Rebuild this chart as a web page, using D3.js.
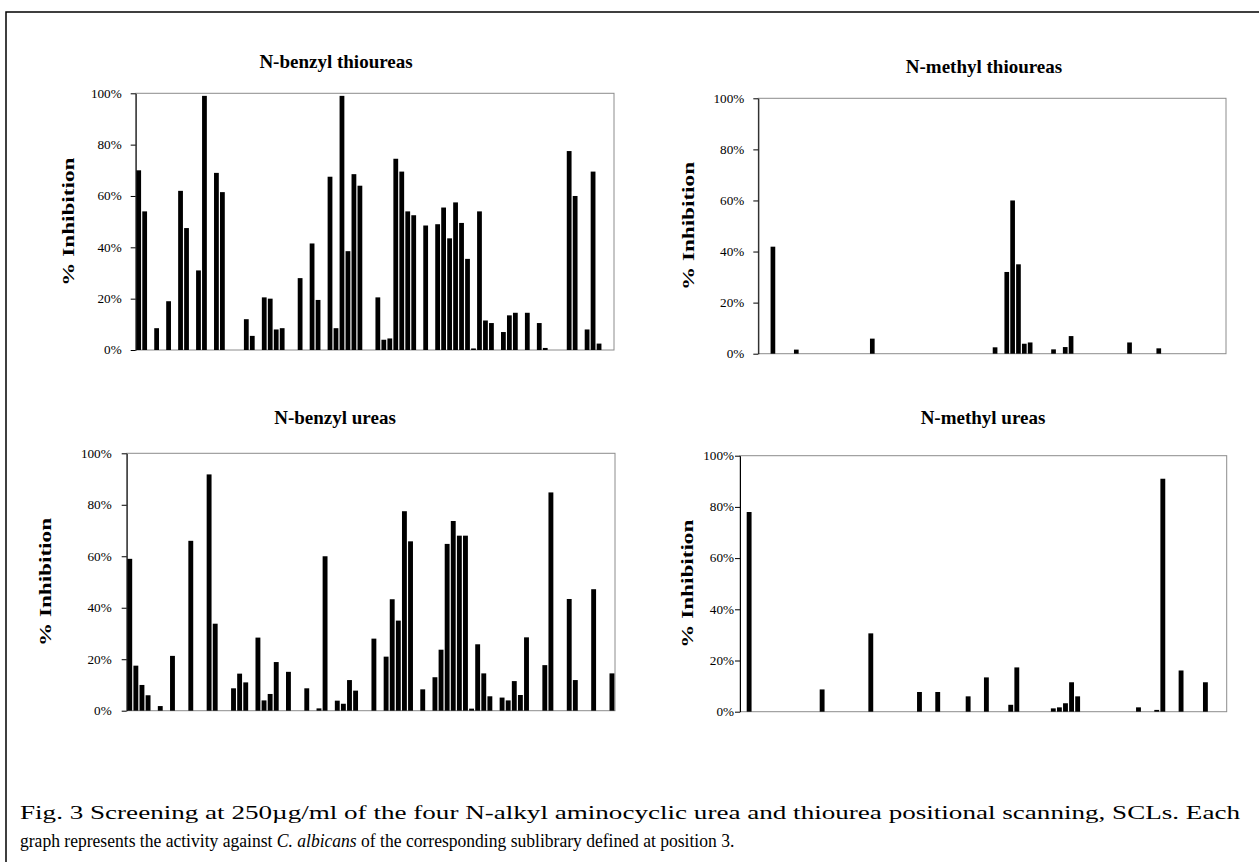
<!DOCTYPE html>
<html>
<head>
<meta charset="utf-8">
<script src="https://d3js.org/d3.v7.min.js"></script>
<style>
body { margin: 0; background: #fff; }
svg text { font-family: "Liberation Serif", "Times New Roman", serif; fill: #000; }
.title { font-weight: bold; font-size: 19px; }
.ylab { font-weight: bold; font-size: 17px; }
.axis text { font-size: 12px; }
.axis path, .axis line { stroke: #000; }
.frame { fill: none; stroke: #8c8c8c; }
.bar { fill: #000; }
.caption { font-size: 18px; }
</style>
</head>
<body>
<svg width="1259" height="862"></svg>
<script>
// % inhibition per sublibrary slot (80 slots each, 0 = no bar)
var benzylThio = [
  70, 54, 0, 8.5, 0, 19, 0, 62, 47.5, 0,
  31, 99, 0, 69, 61.5, 0, 0, 0, 12, 5.5,
  0, 20.5, 20, 8, 8.5, 0, 0, 28, 0, 41.5,
  19.5, 0, 67.5, 8.5, 99, 38.5, 68.5, 64, 0, 0,
  20.5, 4, 4.5, 74.5, 69.5, 54, 52.5, 0, 48.5, 0,
  49, 55.5, 43.5, 57.5, 49.5, 35.5, 0.6, 54, 11.5, 10.5,
  0, 7, 13.5, 14.5, 0, 14.5, 0, 10.5, 0.8, 0,
  0, 0, 77.5, 60, 0, 8, 69.5, 2.5, 0, 0
];
var methylThio = [
  0, 0, 41.9, 0, 0, 0, 1.6, 0, 0, 0,
  0, 0, 0, 0, 0, 0, 0, 0, 0, 5.9,
  0, 0, 0, 0, 0, 0, 0, 0, 0, 0,
  0, 0, 0, 0, 0, 0, 0, 0, 0, 0,
  2.5, 0, 32, 60, 35, 3.9, 4.4, 0, 0, 0,
  1.7, 0, 2.6, 6.9, 0, 0, 0, 0, 0, 0,
  0, 0, 0, 4.4, 0, 0, 0, 0, 2.1, 0,
  0, 0, 0, 0, 0, 0, 0, 0, 0, 0
];
var benzylUrea = [
  59, 17.5, 10, 6, 0, 1.8, 0, 21.3, 0, 0,
  66, 0, 0, 91.8, 33.8, 0, 0, 8.7, 14.4, 11,
  0, 28.4, 4, 6.5, 18.9, 0, 15.1, 0, 0, 8.7,
  0, 0.9, 60, 0, 3.9, 2.7, 11.9, 7.8, 0, 0,
  28, 0, 21, 43.3, 35, 77.5, 65.8, 0, 8.3, 0,
  13, 23.7, 64.8, 73.7, 68, 68, 0.8, 25.8, 14.5, 5.6,
  0, 5.1, 4, 11.5, 6.1, 28.5, 0, 0, 17.7, 84.8,
  0, 0, 43.4, 11.9, 0, 0, 47.2, 0, 0, 14.5
];
var methylUrea = [
  0, 78, 0, 0, 0, 0, 0, 0, 0, 0,
  0, 0, 0, 8.7, 0, 0, 0, 0, 0, 0,
  0, 30.6, 0, 0, 0, 0, 0, 0, 0, 7.7,
  0, 0, 7.7, 0, 0, 0, 0, 6, 0, 0,
  13.4, 0, 0, 0, 2.7, 17.3, 0, 0, 0, 0,
  0, 1.3, 1.7, 3.3, 11.5, 6, 0, 0, 0, 0,
  0, 0, 0, 0, 0, 1.7, 0, 0, 0.7, 91,
  0, 0, 16.1, 0, 0, 0, 11.5, 0, 0, 0
];
var yTicks = [0, 20, 40, 60, 80, 100];
var titles = ["N-benzyl thioureas", "N-methyl thioureas", "N-benzyl ureas", "N-methyl ureas"];
var yLabel = "% Inhibition";
var caption1 = "Fig. 3 Screening at 250\u00b5g/ml of the four N-alkyl aminocyclic urea and thiourea positional scanning, SCLs. Each";
var caption2a = "graph represents the activity against ";
var caption2b = "C. albicans";
var caption2c = " of the corresponding sublibrary defined at position 3.";

var svg = d3.select("svg");

// stretch text horizontally (source figure is wider than plain Times)
function widen(sel, k) {
  sel.each(function() {
    var w = this.getComputedTextLength();
    d3.select(this).attr("textLength", w * k).attr("lengthAdjust", "spacingAndGlyphs");
  });
}

// outer figure border (right and bottom edges are off-page)
svg.append("rect")
    .attr("x", 6).attr("y", 12)
    .attr("width", 1300).attr("height", 900)
    .attr("fill", "none").attr("stroke", "#000").attr("stroke-width", 1.5);

var panels = [
  {values: benzylThio, title: titles[0], left: 135.7, right: 614, top: 93.3, bottom: 350, tx: 336, ty: 68, lx: 68, pad: 9},
  {values: methylThio, title: titles[1], left: 758.3, right: 1226, top: 98.3, bottom: 353.7, tx: 984, ty: 73, lx: 688, pad: 9},
  {values: benzylUrea, title: titles[2], left: 126.7, right: 615, top: 453.3, bottom: 710.7, tx: 335, ty: 424, lx: 45, pad: 10},
  {values: methylUrea, title: titles[3], left: 740, right: 1226.7, top: 455.7, bottom: 711.7, tx: 983, ty: 424, lx: 687, pad: 1}
];

panels.forEach(function(p) {
  var g = svg.append("g");

  var x = d3.scaleBand()
      .domain(d3.range(p.values.length))
      .range([p.left, p.right])
      .paddingInner(0.2)
      .paddingOuter(0.1);
  var y = d3.scaleLinear().domain([0, 100]).range([p.bottom, p.top]);

  g.append("rect")
      .attr("class", "frame")
      .attr("x", p.left).attr("y", p.top)
      .attr("width", p.right - p.left)
      .attr("height", p.bottom - p.top);

  var rows = p.values.map(function(v, i) { return {i: i, v: v}; })
      .filter(function(d) { return d.v > 0; });

  g.selectAll(".bar")
      .data(rows)
    .enter().append("rect")
      .attr("class", "bar")
      .attr("x", function(d) { return x(d.i); })
      .attr("width", x.bandwidth())
      .attr("y", function(d) { return y(d.v); })
      .attr("height", function(d) { return p.bottom - y(d.v); });

  var ax = g.append("g")
      .attr("class", "axis")
      .attr("transform", "translate(" + p.left + ",0)")
      .call(d3.axisLeft(y).tickValues(yTicks).tickSize(5).tickSizeOuter(0)
          .tickPadding(p.pad).tickFormat(function(d) { return d + "%"; }));
  ax.select(".domain").attr("stroke", "#000");
  widen(ax.selectAll("text"), 1.1);

  g.append("text")
      .attr("class", "title")
      .attr("x", p.tx).attr("y", p.ty)
      .attr("text-anchor", "middle")
      .text(p.title);

  var yl = g.append("text")
      .attr("class", "ylab")
      .attr("text-anchor", "middle")
      .attr("transform", "translate(" + p.lx + "," + ((p.top + p.bottom) / 2) + ") rotate(-90)")
      .attr("dy", "0.35em")
      .text(yLabel);
  widen(yl, 128 / yl.node().getComputedTextLength());
});

// caption: each printed line fitted to its width in the figure
var l1 = svg.append("text").attr("class", "caption")
    .attr("x", 20).attr("y", 819).text(caption1);
widen(l1, 1220 / l1.node().getComputedTextLength());

var g2 = svg.append("g");
var l2 = g2.append("text").attr("class", "caption").attr("x", 0).attr("y", 0);
l2.append("tspan").text(caption2a);
l2.append("tspan").attr("font-style", "italic").text(caption2b);
l2.append("tspan").text(caption2c);
var k2 = 715 / l2.node().getComputedTextLength();
g2.attr("transform", "translate(20,847) scale(" + k2 + ",1)");
</script>
</body>
</html>
